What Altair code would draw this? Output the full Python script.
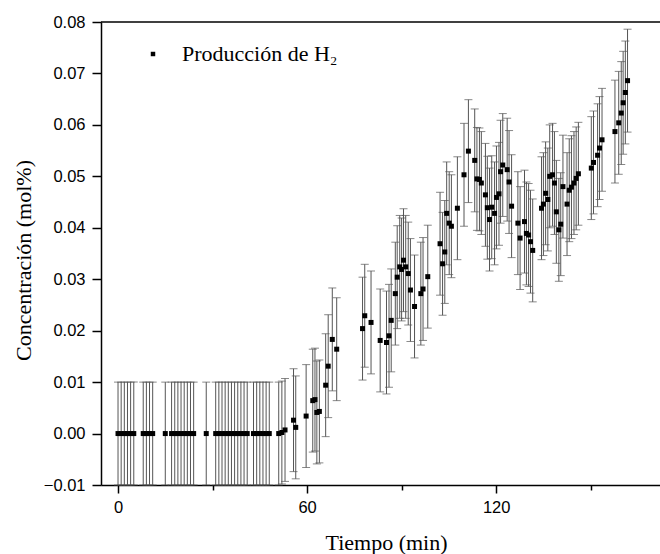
import altair as alt
import pandas as pd

# time (min) and H2 concentration (mol%)
t_zero = [0, 1, 2, 3, 4, 5, 8, 9, 10, 11, 15, 17, 18, 19, 20, 21, 22, 23, 24, 28,
          31, 32, 33, 34, 35, 36, 37, 38, 39, 40, 41, 43, 44, 45, 46, 47, 48, 51]
c_zero = [0.0] * len(t_zero)

t_rise = [52, 53, 55.7, 56.4, 59.7, 61.8, 62.5, 63.1, 63.9, 65.9, 66.7, 68.0, 69.4,
          77.6, 78.3, 80.3, 83.2, 85.2, 86.0, 86.7, 88.0, 88.6, 89.4, 90.0, 90.6,
          91.3, 92.1, 92.8, 94.1, 96.1, 96.8, 98.3, 102.2, 103.0, 103.7, 104.3,
          105.1, 105.8, 107.7, 109.8, 111.2, 113.2, 113.9, 114.7, 115.3, 116.6,
          117.2, 117.9, 118.6, 119.5, 120.1, 120.9, 121.4, 122.1, 123.5, 124.1,
          124.9, 126.9, 127.6, 129.0, 129.6, 130.3, 130.9, 131.6, 134.4, 135.0,
          135.7, 136.4, 137.0, 137.9, 138.5, 139.1, 139.9, 140.5, 141.2, 142.5,
          143.2, 143.9, 144.7, 145.4, 146.1, 150.2, 150.9, 152.2, 152.8, 153.6,
          157.7, 158.9, 159.7, 160.3, 161.0, 161.7]
c_rise = [0.0002, 0.0007, 0.0026, 0.0012, 0.0034, 0.0064, 0.0066, 0.0041, 0.0043,
          0.0094, 0.0131, 0.0183, 0.0164, 0.0204, 0.0229, 0.0216, 0.0181, 0.0177,
          0.0190, 0.0220, 0.0272, 0.0304, 0.0324, 0.0319, 0.0337, 0.0324, 0.0311,
          0.0279, 0.0247, 0.0272, 0.0281, 0.0305, 0.0369, 0.0330, 0.0353, 0.0428,
          0.0409, 0.0403, 0.0438, 0.0503, 0.0549, 0.0531, 0.0495, 0.0494, 0.0487,
          0.0464, 0.0439, 0.0416, 0.0440, 0.0428, 0.0459, 0.0466, 0.0509, 0.0522,
          0.0513, 0.0489, 0.0442, 0.0409, 0.0380, 0.0412, 0.0389, 0.0386, 0.0373,
          0.0356, 0.0438, 0.0446, 0.0467, 0.0455, 0.0500, 0.0503, 0.0487, 0.0431,
          0.0396, 0.0407, 0.0480, 0.0446, 0.0473, 0.0479, 0.0487, 0.0496, 0.0505,
          0.0516, 0.0527, 0.0541, 0.0555, 0.0571, 0.0587, 0.0604, 0.0623, 0.0643,
          0.0663, 0.0686]
ERR = 0.01  # half-width of every error bar

series_name = "Producción de H₂"
x_ticks = [0, 30, 60, 90, 120, 150]
y_ticks = [round(-0.01 + 0.005 * i, 3) for i in range(19)]

df = pd.DataFrame({"t": t_zero + t_rise, "c": c_zero + c_rise})
df["lo"] = df["c"] - ERR
df["hi"] = df["c"] + ERR
df["serie"] = series_name

W, H = 559, 463
xs = alt.Scale(domain=[-5.4, 172], nice=False, zero=False)
ys = alt.Scale(domain=[-0.01, 0.08], nice=False, zero=False)

serif = "Liberation Serif"
sans = "Liberation Sans"
bar_color = "#555555"

x_axis = alt.Axis(
    values=x_ticks, grid=False, title="Tiempo (min)",
    labelExpr="datum.value % 60 === 0 ? format(datum.value, 'd') : ''",
    tickSize={"condition": {"test": "datum.value % 60 === 0", "value": 8}, "value": 5},
    labelFont=sans, labelFontSize=16.5, labelColor="black", labelPadding=6,
    titleFont=serif, titleFontSize=22, titleFontWeight="normal", titleColor="black",
    titleX=285, titleY=57, titleBaseline="middle", titleAlign="center",
    domainColor="black", domainWidth=1.5, tickColor="black", tickWidth=1.5,
)
y_axis = alt.Axis(
    values=y_ticks, grid=False, title="Concentración (mol%)",
    labelExpr="abs(round(datum.value * 1000)) % 10 === 0 ? format(datum.value, '.2f') : ''",
    tickSize={"condition": {"test": "abs(round(datum.value * 1000)) % 10 === 0", "value": 9}, "value": 5},
    labelFont=sans, labelFontSize=16.5, labelColor="black", labelPadding=7,
    titleFont=serif, titleFontSize=22, titleFontWeight="normal", titleColor="black",
    titleX=-78, titleY=238, titleBaseline="middle", titleAlign="center", titleAngle=-90,
    domainColor="black", domainWidth=1.5, tickColor="black", tickWidth=1.5,
)

base = alt.Chart(df)

bars = base.mark_rule(color=bar_color, strokeWidth=1).encode(
    x=alt.X("t:Q", scale=xs, axis=x_axis),
    y=alt.Y("lo:Q", scale=ys, axis=y_axis),
    y2="hi:Q",
)
caps_lo = base.mark_tick(orient="horizontal", size=8, thickness=1, color=bar_color).encode(
    x=alt.X("t:Q", scale=xs), y=alt.Y("lo:Q", scale=ys)
)
caps_hi = base.mark_tick(orient="horizontal", size=8, thickness=1, color=bar_color).encode(
    x=alt.X("t:Q", scale=xs), y=alt.Y("hi:Q", scale=ys)
)
points = base.mark_point(shape="square", filled=True, size=25, opacity=1).encode(
    x=alt.X("t:Q", scale=xs),
    y=alt.Y("c:Q", scale=ys),
    color=alt.Color(
        "serie:N",
        scale=alt.Scale(domain=[series_name], range=["black"]),
        legend=alt.Legend(
            title=None, orient="none", legendX=41, legendY=21,
            symbolType="square", symbolSize=20, symbolFillColor="black",
            symbolStrokeWidth=0, labelFont=serif, labelFontSize=22,
            labelColor="black", labelOffset=18, labelLimit=400,
        ),
    ),
)
top_line = alt.Chart(pd.DataFrame({"v": [0]})).mark_rule(color="black", strokeWidth=1.5).encode(
    x=alt.value(0), x2=alt.value(W), y=alt.value(0)
)

chart = (
    alt.layer(bars, caps_lo, caps_hi, points, top_line)
    .properties(
        width=W, height=H,
        autosize=alt.AutoSizeParams(type="none"),
        padding={"left": 101, "top": 22, "right": 0, "bottom": 69},
        background="white",
    )
    .configure_view(stroke=None)
)

chart.save("out.html", embed_options={"renderer": "svg", "actions": False})
